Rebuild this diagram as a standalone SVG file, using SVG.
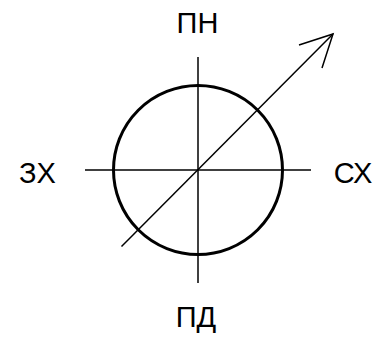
<svg xmlns="http://www.w3.org/2000/svg" width="383" height="361" viewBox="0 0 383 361">
<style>
.t{font-family:"Liberation Sans",Arial,sans-serif;font-size:29px;fill:#000;text-anchor:middle}
.ln{stroke:#000;stroke-width:1.5;fill:none}
</style>
<rect width="383" height="361" fill="#fff"/>
<g id="connectors">
<line class="ln" x1="198" y1="57" x2="198" y2="283"/>
<line class="ln" x1="85" y1="170" x2="311" y2="170"/>
<line class="ln" x1="121.5" y1="246.5" x2="333" y2="34"/>
<polyline class="ln" points="299,45 333,34 322,68"/>
</g>
<g id="circle"><circle cx="198" cy="170" r="84.5" fill="none" stroke="#000" stroke-width="3"/></g>
<g id="north"><text class="t" x="197.5" y="33">ПН</text></g>
<g id="west"><text class="t" x="37.5" y="182.5">ЗХ</text></g>
<g id="east"><text class="t" x="353" y="182.5">СХ</text></g>
<g id="south"><text class="t" x="196" y="327">ПД</text></g>
</svg>
